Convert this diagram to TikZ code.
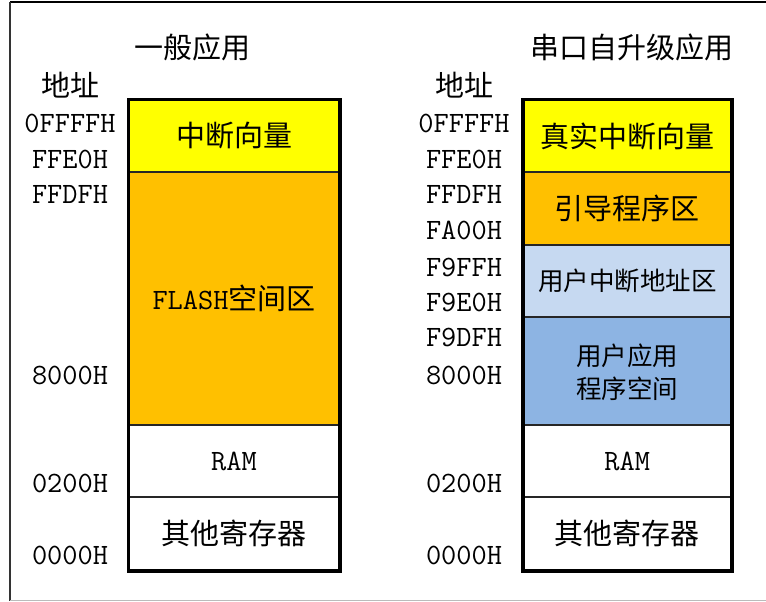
\documentclass[tikz,border=0pt]{standalone}
\usepackage{fontspec}
\newfontfamily\cjk{Noto Sans CJK SC}
\newfontfamily\mono{Latin Modern Mono}
\definecolor{vecyellow}{HTML}{FFFF00}
\definecolor{memorange}{HTML}{FFC000}
\definecolor{lightblu}{HTML}{C6D9F1}
\definecolor{midblu}{HTML}{8DB4E3}
\definecolor{framegray}{HTML}{BBBBBB}
\tikzset{
  region/.style={draw=black!85, line width=1.5pt, inner sep=0pt, align=center},
  lreg/.style={region, minimum width=210pt},
  rreg/.style={region, minimum width=207.5pt},
  outerbox/.style={draw=black, line width=3.5pt},
  cjkbig/.style={font=\cjk\fontsize{29}{33}\selectfont},
  cjksmall/.style={font=\cjk\fontsize{25.5}{33}\selectfont},
  addr/.style={font=\mono\fontsize{29.5}{32}\selectfont, inner sep=0pt},
  title/.style={font=\cjk\fontsize{29}{33}\selectfont, inner sep=0pt},
}
\begin{document}
\begin{tikzpicture}[x=1pt,y=-1pt]
\useasboundingbox (0,0) rectangle (766,602);
\fill[white] (0,0) rectangle (766,602);
% frame
\draw[black, line width=2pt] (10,2) -- (766,2);
\draw[black!80, line width=1.5pt] (10,2) -- (10,601);
\draw[framegray, line width=1.5pt] (10,600.5) -- (766,600.5);

% titles
\node[title] (t1) at (192,47) {一般应用};
\node[title] (t2) at (632,47) {串口自升级应用};
\node[title] (a1) at (70,85) {地址};
\node[title] (a2) at (464,85) {地址};

% left block
\node[lreg, cjkbig, fill=vecyellow, minimum height=72pt] (l1) at (234,136) {中断向量};
\node[lreg, fill=memorange, minimum height=253pt] (l2) at (234,298.5) {{\mono\fontsize{29.5}{32}\selectfont FLASH}{\cjk\fontsize{29}{33}\selectfont 空间区}};
\node[lreg, addr, fill=white, minimum height=72pt] (l3) at (234,461) {RAM};
\node[lreg, cjkbig, fill=white, minimum height=73pt] (l4) at (234,533.5) {其他寄存器};
\draw[outerbox] (l1.north west) rectangle (l4.south east);

% right block
\node[rreg, cjkbig, fill=vecyellow, minimum height=72pt] (r1) at (627.25,136) {真实中断向量};
\node[rreg, cjkbig, fill=memorange, minimum height=73pt] (r2) at (627.25,208.5) {引导程序区};
\node[rreg, cjksmall, fill=lightblu, minimum height=72pt] (r3) at (627.25,281) {用户中断地址区};
\node[rreg, cjksmall, fill=midblu, minimum height=108pt, text depth=0pt] (r4) at (627.25,371) {用户应用\\程序空间};
\node[rreg, addr, fill=white, minimum height=72pt] (r5) at (627.25,461) {RAM};
\node[rreg, cjkbig, fill=white, minimum height=73pt] (r6) at (627.25,533.5) {其他寄存器};
\draw[outerbox] (r1.north west) rectangle (r6.south east);

% left addresses
\node[addr] (la1) at (70,123) {0FFFFH};
\node[addr] (la2) at (70,159) {FFE0H};
\node[addr] (la3) at (70,194) {FFDFH};
\node[addr] (la4) at (70,375) {8000H};
\node[addr] (la5) at (70,483) {0200H};
\node[addr] (la6) at (70,555) {0000H};

% right addresses
\node[addr] (ra1) at (464,123) {0FFFFH};
\node[addr] (ra2) at (464,159) {FFE0H};
\node[addr] (ra3) at (464,194) {FFDFH};
\node[addr] (ra4) at (464,230) {FA00H};
\node[addr] (ra5) at (464,267) {F9FFH};
\node[addr] (ra6) at (464,302) {F9E0H};
\node[addr] (ra7) at (464,337) {F9DFH};
\node[addr] (ra8) at (464,375) {8000H};
\node[addr] (ra9) at (464,483) {0200H};
\node[addr] (ra10) at (464,555) {0000H};
\end{tikzpicture}
\end{document}
